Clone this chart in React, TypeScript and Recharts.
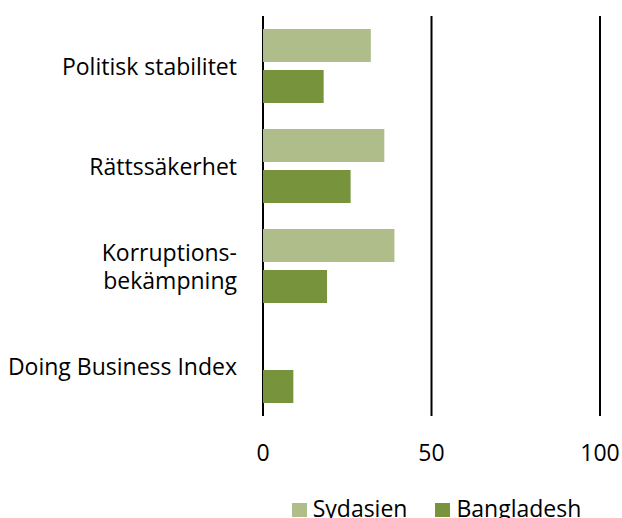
import React from "react";
import {
  BarChart,
  Bar,
  XAxis,
  YAxis,
  CartesianGrid,
  Legend,
} from "recharts";

// categories, top to bottom
const categories = [
  "Politisk stabilitet",
  "Rättssäkerhet",
  "Korruptions-\nbekämpning",
  "Doing Business Index",
];

// index values 0-100
const sydasien = [32, 36, 39, null];
const bangladesh = [18, 26, 19, 9];

const seriesOrder = ["Sydasien", "Bangladesh"];
const xTicks = [0, 50, 100];

const FONT = "'Open Sans', sans-serif";
const LIGHT = "#aebd8a";
const DARK = "#77933c";

const data = categories.map((name, i) => ({
  name,
  Sydasien: sydasien[i],
  Bangladesh: bangladesh[i],
}));

function CategoryTick(props: any) {
  const { x, y, payload } = props;
  const lines = String(payload.value).split("\n");
  const lineH = 28;
  return (
    <text
      x={x}
      y={y}
      textAnchor="end"
      fill="#000"
      fontSize={23}
      fontFamily={FONT}
    >
      {lines.map((l, i) => (
        <tspan key={i} x={x} y={y + 8.5 + (i - (lines.length - 1) / 2) * lineH}>
          {l}
        </tspan>
      ))}
    </text>
  );
}

function renderLegend(props: any) {
  const items = [...(props.payload || [])].sort(
    (a: any, b: any) => seriesOrder.indexOf(a.value) - seriesOrder.indexOf(b.value)
  );
  return (
    <div
      style={{
        height: 56,
        width: 622,
        display: "flex",
        justifyContent: "center",
        paddingLeft: 251,
        boxSizing: "border-box",
        paddingTop: 35,
        fontFamily: FONT,
        fontSize: 23,
        lineHeight: "23px",
        color: "#000",
      }}
    >
      {items.map((it: any, i: number) => (
        <div
          key={i}
          style={{
            display: "flex",
            alignItems: "flex-start",
            marginLeft: i === 0 ? 0 : 28,
          }}
        >
          <span
            style={{
              display: "inline-block",
              width: 15,
              height: 14,
              marginTop: 6,
              marginRight: 6,
              background: it.color,
            }}
          />
          <span>{it.value}</span>
        </div>
      ))}
    </div>
  );
}

export default function App() {
  return (
    <div style={{ position: "absolute", top: 0, left: 0, background: "#fff" }}>
      <BarChart
        width={622}
        height={518}
        data={data}
        layout="vertical"
        margin={{ top: 16, right: 22, bottom: 0, left: 0 }}
        barSize={33}
        barGap={8}
        style={{ fontFamily: FONT }}
      >
        <CartesianGrid
          horizontal={false}
          stroke="#000"
          strokeWidth={2}
        />
        <XAxis
          type="number"
          domain={[0, 100]}
          ticks={xTicks}
          axisLine={false}
          tickLine={false}
          tickSize={0}
          tickMargin={29}
          height={46}
          interval={0}
          tick={{ fontSize: 23, fill: "#000", fontFamily: FONT }}
        />
        <YAxis
          type="category"
          dataKey="name"
          width={263}
          axisLine={false}
          tickLine={false}
          tickSize={0}
          tickMargin={26}
          interval={0}
          tick={<CategoryTick />}
        />
        <Legend
          verticalAlign="bottom"
          align="left"
          content={renderLegend}
        />
        <Bar dataKey="Sydasien" fill={LIGHT} isAnimationActive={false} />
        <Bar dataKey="Bangladesh" fill={DARK} isAnimationActive={false} />
      </BarChart>
    </div>
  );
}
